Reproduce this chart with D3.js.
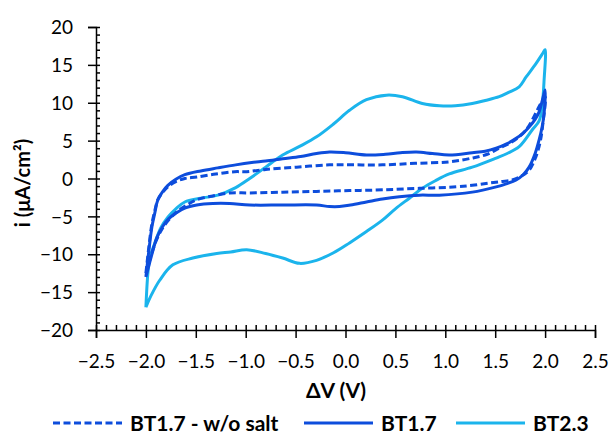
<!DOCTYPE html>
<html>
<head>
<meta charset="utf-8">
<script src="https://cdn.jsdelivr.net/npm/d3@7"></script>
<style>
  body { margin: 0; background: #fff; }
  text { font-family: Lato, "Open Sans", sans-serif; fill: #000; }
</style>
</head>
<body>
<div id="chart"></div>
<script>
// voltage sweep (V) and current density (uA/cm2)
var bt23V = [-2.0, -1.98, -1.96, -1.91, -1.85, -1.78, -1.70, -1.61, -1.45, -1.28, -1.10, -0.96, -0.80, -0.63, -0.45, -0.29, -0.12, 0.04, 0.21, 0.41, 0.57, 0.77, 0.94, 1.10, 1.27, 1.40, 1.54, 1.64, 1.74, 1.81, 1.91, 1.98, 2.0,
             1.99, 1.97, 1.94, 1.87, 1.74, 1.62, 1.51, 1.27, 1.04, 0.90, 0.77, 0.64, 0.50, 0.37, 0.21, 0.04, -0.12, -0.29, -0.46, -0.63, -0.80, -0.99, -1.15, -1.29, -1.53, -1.73, -1.86, -1.95, -2.0];
var bt23I = [-17.0, -12.5, -10.5, -8.5, -6.5, -5.1, -4.0, -3.1, -2.6, -2.2, -1.2, 0.0, 1.5, 3.1, 4.3, 5.5, 7.2, 9.0, 10.4, 11.0, 10.8, 9.9, 9.6, 9.6, 9.9, 10.3, 10.8, 11.4, 12.1, 13.4, 15.2, 16.6, 17.0,
             13.0, 9.5, 7.6, 6.4, 4.2, 3.3, 2.7, 1.5, 0.6, -0.3, -1.3, -2.6, -4.0, -5.5, -7.0, -8.5, -9.8, -10.8, -11.2, -10.5, -9.9, -9.4, -9.7, -9.9, -10.5, -11.4, -13.4, -15.5, -17.0];

var bt17V = [-2.0, -1.97, -1.94, -1.91, -1.88, -1.83, -1.78, -1.70, -1.61, -1.45, -1.28, -1.10, -0.94, -0.80, -0.63, -0.45, -0.29, -0.16, 0.0, 0.21, 0.40, 0.55, 0.71, 0.87, 1.04, 1.27, 1.40, 1.51, 1.62, 1.71, 1.78, 1.84, 1.90, 1.94, 1.97, 2.0,
             1.99, 1.97, 1.94, 1.90, 1.84, 1.78, 1.71, 1.61, 1.51, 1.27, 0.94, 0.74, 0.54, 0.37, 0.21, 0.05, -0.06, -0.16, -0.29, -0.63, -0.96, -1.16, -1.33, -1.49, -1.61, -1.69, -1.77, -1.83, -1.89, -1.94, -1.97, -2.0];
var bt17I = [-13.0, -9.5, -6.4, -4.5, -2.8, -1.7, -0.9, -0.1, 0.5, 1.0, 1.4, 1.8, 2.1, 2.3, 2.6, 2.9, 3.3, 3.5, 3.4, 3.1, 3.2, 3.4, 3.5, 3.3, 3.1, 3.4, 3.6, 4.0, 4.6, 5.3, 6.0, 6.8, 7.8, 8.8, 10.2, 11.7,
             8.6, 6.8, 5.1, 3.3, 1.5, 0.5, -0.2, -0.7, -1.1, -1.8, -2.2, -2.2, -2.4, -2.7, -3.1, -3.5, -3.7, -3.7, -3.5, -3.5, -3.5, -3.3, -3.3, -3.5, -3.9, -4.5, -5.3, -6.3, -7.8, -10.0, -11.5, -13.0];

var bt17NoSaltV = [-2.0, -1.97, -1.94, -1.91, -1.88, -1.83, -1.78, -1.70, -1.61, -1.49, -1.30, -1.11, -0.99, -0.80, -0.49, -0.16, 0.10, 0.37, 0.70, 1.04, 1.27, 1.42, 1.54, 1.65, 1.74, 1.82, 1.87, 1.92, 1.96, 2.0,
                   1.98, 1.95, 1.90, 1.84, 1.76, 1.67, 1.56, 1.44, 1.27, 1.11, 0.74, 0.37, 0.04, -0.29, -0.63, -0.96, -1.16, -1.33, -1.49, -1.59, -1.68, -1.76, -1.83, -1.89, -1.94, -1.97, -2.0];
var bt17NoSaltI = [-12.5, -9.0, -6.0, -4.2, -2.8, -1.8, -1.1, -0.4, 0.0, 0.2, 0.6, 0.9, 0.9, 1.2, 1.5, 1.8, 1.8, 1.8, 2.0, 2.2, 2.7, 3.2, 4.0, 4.7, 5.5, 6.6, 7.7, 9.0, 10.0, 10.8,
                   7.5, 4.8, 2.6, 1.1, 0.3, -0.2, -0.4, -0.6, -0.9, -1.1, -1.3, -1.5, -1.6, -1.7, -1.8, -1.9, -1.9, -2.3, -2.8, -3.5, -4.3, -5.3, -6.5, -8.0, -9.8, -11.2, -12.5];

var xMajor = [-2.5, -2.0, -1.5, -1.0, -0.5, 0.0, 0.5, 1.0, 1.5, 2.0, 2.5];
var yMajor = [-20, -15, -10, -5, 0, 5, 10, 15, 20];
var legendLabels = ["BT1.7 - w/o salt", "BT1.7", "BT2.3"];

var darkBlue = "#0d4ddc", lightBlue = "#1bb4ec";

var width = 609, height = 433;
var margin = {top: 27, right: 14, bottom: 103, left: 96};
var plotW = width - margin.left - margin.right,
    plotH = height - margin.top - margin.bottom;

var svg = d3.select("#chart").append("svg")
    .attr("width", width)
    .attr("height", height);

var g = svg.append("g")
    .attr("transform", "translate(" + margin.left + "," + margin.top + ")");

var x = d3.scaleLinear().domain([-2.5, 2.5]).range([0, plotW]);
var y = d3.scaleLinear().domain([-20, 20]).range([plotH, 0]);

// minor ticks: 0.1 on x, 1 on y
var xMinor = d3.range(-25, 26).map(function(d) { return d / 10; });
var yMinor = d3.range(-20, 21);

// y axis: major ticks stick out left, all ticks stick in right
var yAxis = g.append("g")
    .call(d3.axisLeft(y).tickValues(yMajor).tickSize(8).tickPadding(15)
          .tickFormat(d3.format("d")));
yAxis.selectAll("text").style("font-size", "19px").attr("dy", "0.35em");
g.append("g")
    .call(d3.axisRight(y).tickValues(yMinor).tickSize(4).tickFormat(""));

// x axis
var xAxis = g.append("g")
    .attr("transform", "translate(0," + plotH + ")")
    .call(d3.axisBottom(x).tickValues(xMajor).tickSize(8)
          .tickFormat(d3.format(".1f")));
xAxis.selectAll("text").style("font-size", "19px").attr("y", 38).attr("dy", 0);
g.append("g")
    .attr("transform", "translate(0," + plotH + ")")
    .call(d3.axisTop(x).tickValues(xMinor).tickSize(5).tickFormat(""));

g.selectAll(".domain").attr("stroke", "#000").attr("stroke-width", 1.5);
g.selectAll(".tick line").attr("stroke", "#000").attr("stroke-width", 1.5);
g.selectAll(".domain").filter(function(d, i) { return i == 1 || i == 3; }).remove();

// curves
function pts(vs, is) {
    return vs.map(function(v, k) { return [v, is[k]]; });
}
var line = d3.line()
    .x(function(d) { return x(d[0]); })
    .y(function(d) { return y(d[1]); })
    .curve(d3.curveCatmullRom.alpha(0.5));

var series = [
    {data: pts(bt23V, bt23I), color: lightBlue, dash: null},
    {data: pts(bt17V, bt17I), color: darkBlue, dash: null},
    {data: pts(bt17NoSaltV, bt17NoSaltI), color: darkBlue, dash: "7,3.5"}
];

g.selectAll("path.series")
    .data(series)
    .enter()
    .append("path")
    .attr("class", "series")
    .attr("d", function(d) { return line(d.data); })
    .attr("fill", "none")
    .attr("stroke", function(d) { return d.color; })
    .attr("stroke-width", 3)
    .attr("stroke-dasharray", function(d) { return d.dash; });

// axis titles
svg.append("text")
    .attr("x", 336).attr("y", 398)
    .attr("text-anchor", "middle")
    .style("font-size", "21px").style("font-weight", "bold")
    .text("ΔV (V)");

svg.append("text")
    .attr("transform", "translate(30,183) rotate(-90)")
    .attr("text-anchor", "middle")
    .style("font-size", "20px").style("font-weight", "bold")
    .text("i (μA/cm²)");

// legend
var legendItems = [
    {label: legendLabels[0], color: darkBlue, dash: "7,3.5", x: 53},
    {label: legendLabels[1], color: darkBlue, dash: null, x: 304},
    {label: legendLabels[2], color: lightBlue, dash: null, x: 456}
];
var leg = svg.selectAll("g.leg")
    .data(legendItems)
    .enter()
    .append("g")
    .attr("class", "leg")
    .attr("transform", function(d) { return "translate(" + d.x + ",423)"; });
leg.append("line")
    .attr("x1", 0).attr("x2", 69)
    .attr("stroke", function(d) { return d.color; })
    .attr("stroke-width", 3)
    .attr("stroke-dasharray", function(d) { return d.dash; });
leg.append("text")
    .attr("x", 77).attr("y", 7.5)
    .style("font-size", "21px").style("font-weight", "bold")
    .text(function(d) { return d.label; });
</script>
</body>
</html>
